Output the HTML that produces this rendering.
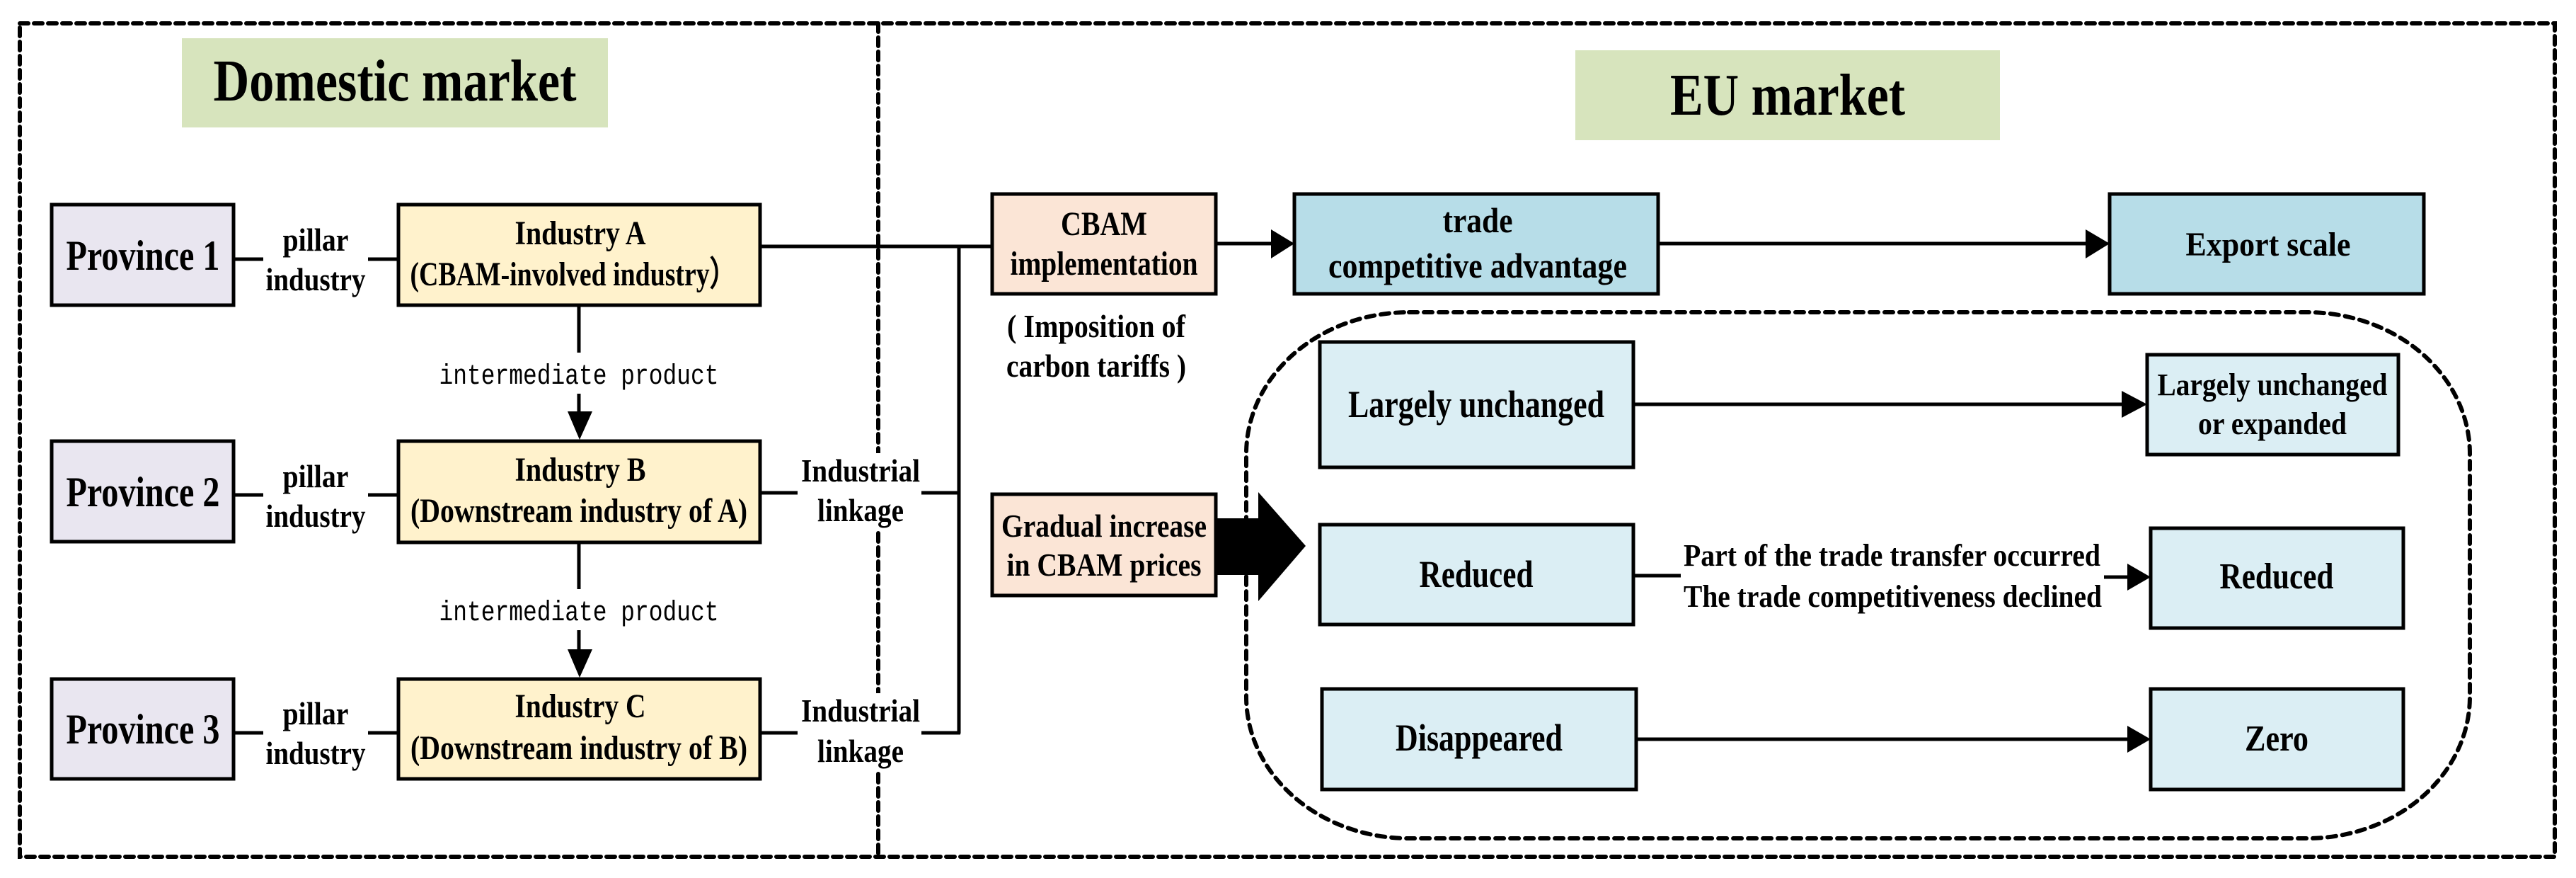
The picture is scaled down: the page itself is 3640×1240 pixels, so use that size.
<!DOCTYPE html>
<html><head><meta charset="utf-8"><style>
html,body{margin:0;padding:0;background:#fff;}
svg{display:block;}
text{font-family:"Liberation Serif","Times New Roman",serif;font-weight:bold;fill:#000;}
.m{font-family:"Liberation Mono",monospace;font-weight:normal;}
</style></head><body>
<svg width="3640" height="1240" viewBox="0 0 3640 1240" xmlns="http://www.w3.org/2000/svg">
<!-- outer dashed -->
<g fill="none" stroke="#000" stroke-width="6" stroke-dasharray="12 8" stroke-linecap="round">
<rect x="28" y="33" width="3582" height="1177"/>
<line x1="1241" y1="33" x2="1241" y2="1210"/>
</g>
<!-- inner dotted rounded -->
<rect x="1761" y="441" width="1729" height="743" rx="230" ry="200" fill="none" stroke="#000" stroke-width="6" stroke-dasharray="12 9" stroke-linecap="round"/>

<!-- white backgrounds behind linkage labels -->
<rect x="1130" y="640" width="172" height="110" fill="#fff"/>
<rect x="1130" y="979" width="172" height="110" fill="#fff"/>

<!-- titles -->
<rect x="257" y="54" width="602" height="126" fill="#d7e4bd"/>
<text x="558" y="142" font-size="84" text-anchor="middle" textLength="513" lengthAdjust="spacingAndGlyphs">Domestic market</text>
<rect x="2226" y="71" width="600" height="127" fill="#d7e4bd"/>
<text x="2526" y="162" font-size="84" text-anchor="middle" textLength="332" lengthAdjust="spacingAndGlyphs">EU market</text>

<g stroke="#000" stroke-width="5">
<rect x="73" y="289" width="257" height="142" fill="#e9e6f0"/>
<rect x="73" y="623" width="257" height="142" fill="#e9e6f0"/>
<rect x="73" y="959" width="257" height="141" fill="#e9e6f0"/>
<rect x="563" y="289" width="511" height="142" fill="#fff2cc"/>
<rect x="563" y="623" width="511" height="143" fill="#fff2cc"/>
<rect x="563" y="959" width="511" height="141" fill="#fff2cc"/>
<rect x="1402" y="274" width="316" height="141" fill="#fbe5d6"/>
<rect x="1402" y="698" width="316" height="143" fill="#fbe5d6"/>
<rect x="1829" y="274" width="514" height="141" fill="#b7dde8"/>
<rect x="2981" y="274" width="444" height="141" fill="#b7dde8"/>
<rect x="1865" y="483" width="443" height="177" fill="#dbeef4"/>
<rect x="1865" y="741" width="443" height="141" fill="#dbeef4"/>
<rect x="1868" y="973" width="444" height="142" fill="#dbeef4"/>
<rect x="3034" y="501" width="355" height="141" fill="#dbeef4"/>
<rect x="3039" y="746" width="357" height="141" fill="#dbeef4"/>
<rect x="3039" y="973" width="357" height="142" fill="#dbeef4"/>

<g fill="none">
<line x1="330" y1="366" x2="372" y2="366"/><line x1="520" y1="366" x2="563" y2="366"/>
<line x1="330" y1="699" x2="372" y2="699"/><line x1="520" y1="699" x2="563" y2="699"/>
<line x1="330" y1="1035" x2="372" y2="1035"/><line x1="520" y1="1035" x2="563" y2="1035"/>
<line x1="818" y1="431" x2="818" y2="498"/><line x1="818" y1="556" x2="818" y2="585"/>
<line x1="818" y1="766" x2="818" y2="832"/><line x1="818" y1="890" x2="818" y2="920"/>
<polyline points="1074,348 1402,348"/>
<polyline points="1355,348 1355,1036"/>
<line x1="1074" y1="696" x2="1127" y2="696"/><line x1="1302" y1="696" x2="1357" y2="696"/>
<line x1="1074" y1="1035" x2="1127" y2="1035"/><line x1="1302" y1="1035" x2="1357" y2="1035"/>
<line x1="1718" y1="344" x2="1800" y2="344"/>
<line x1="2343" y1="344" x2="2950" y2="344"/>
<line x1="2308" y1="571" x2="3000" y2="571"/>
<line x1="2308" y1="813" x2="2375" y2="813"/>
<line x1="2973" y1="815" x2="3008" y2="815"/>
<line x1="2312" y1="1044" x2="3008" y2="1044"/>
</g>
</g>
<g fill="#000">
<polygon points="802,581 837,581 819,621"/>
<polygon points="802,917 837,917 819,957"/>
<polygon points="1796,324 1829,344 1796,365"/>
<polygon points="2947,324 2981,344 2947,365"/>
<polygon points="2998,552 3034,571 2998,590"/>
<polygon points="3006,796 3039,815 3006,834"/>
<polygon points="3006,1025 3039,1044 3006,1063"/>
<polygon points="1718,732 1778,732 1778,695 1845,771 1778,849 1778,812 1718,812"/>
</g>

<g text-anchor="middle">
<text x="202" y="381" font-size="60" textLength="217" lengthAdjust="spacingAndGlyphs">Province 1</text>
<text x="202" y="715" font-size="60" textLength="217" lengthAdjust="spacingAndGlyphs">Province 2</text>
<text x="202" y="1050" font-size="60" textLength="217" lengthAdjust="spacingAndGlyphs">Province 3</text>

<text x="446" y="354" font-size="46" textLength="93" lengthAdjust="spacingAndGlyphs">pillar</text>
<text x="446" y="410" font-size="46" textLength="141" lengthAdjust="spacingAndGlyphs">industry</text>
<text x="446" y="688" font-size="46" textLength="93" lengthAdjust="spacingAndGlyphs">pillar</text>
<text x="446" y="744" font-size="46" textLength="141" lengthAdjust="spacingAndGlyphs">industry</text>
<text x="446" y="1023" font-size="46" textLength="93" lengthAdjust="spacingAndGlyphs">pillar</text>
<text x="446" y="1079" font-size="46" textLength="141" lengthAdjust="spacingAndGlyphs">industry</text>

<text x="820" y="345" font-size="48" textLength="185" lengthAdjust="spacingAndGlyphs">Industry A</text>
<text x="810" y="403" font-size="48" textLength="461" lengthAdjust="spacingAndGlyphs">(CBAM-involved industry）</text>
<text x="820" y="679" font-size="48" textLength="185" lengthAdjust="spacingAndGlyphs">Industry B</text>
<text x="818" y="737" font-size="48" textLength="476" lengthAdjust="spacingAndGlyphs">(Downstream industry of A)</text>
<text x="820" y="1013" font-size="48" textLength="185" lengthAdjust="spacingAndGlyphs">Industry C</text>
<text x="818" y="1072" font-size="48" textLength="476" lengthAdjust="spacingAndGlyphs">(Downstream industry of B)</text>

<text class="m" x="818" y="542" font-size="40" textLength="395" lengthAdjust="spacingAndGlyphs">intermediate product</text>
<text class="m" x="818" y="876" font-size="40" textLength="395" lengthAdjust="spacingAndGlyphs">intermediate product</text>

<text x="1216" y="680" font-size="46" textLength="168" lengthAdjust="spacingAndGlyphs">Industrial</text>
<text x="1216" y="736" font-size="46" textLength="122" lengthAdjust="spacingAndGlyphs">linkage</text>
<text x="1216" y="1019" font-size="46" textLength="168" lengthAdjust="spacingAndGlyphs">Industrial</text>
<text x="1216" y="1076" font-size="46" textLength="122" lengthAdjust="spacingAndGlyphs">linkage</text>

<text x="1560" y="332" font-size="48" textLength="122" lengthAdjust="spacingAndGlyphs">CBAM</text>
<text x="1560" y="388" font-size="48" textLength="265" lengthAdjust="spacingAndGlyphs">implementation</text>
<text x="1549" y="476" font-size="46" textLength="252" lengthAdjust="spacingAndGlyphs">( Imposition of</text>
<text x="1549" y="532" font-size="46" textLength="254" lengthAdjust="spacingAndGlyphs">carbon tariffs )</text>
<text x="1560" y="758" font-size="46" textLength="290" lengthAdjust="spacingAndGlyphs">Gradual increase</text>
<text x="1560" y="813" font-size="46" textLength="275" lengthAdjust="spacingAndGlyphs">in CBAM prices</text>

<text x="2088" y="328" font-size="50" textLength="99" lengthAdjust="spacingAndGlyphs">trade</text>
<text x="2088" y="392" font-size="50" textLength="422" lengthAdjust="spacingAndGlyphs">competitive advantage</text>
<text x="3205" y="361" font-size="48" textLength="233" lengthAdjust="spacingAndGlyphs">Export scale</text>

<text x="2086" y="589" font-size="54" textLength="362" lengthAdjust="spacingAndGlyphs">Largely unchanged</text>
<text x="2086" y="829" font-size="54" textLength="161" lengthAdjust="spacingAndGlyphs">Reduced</text>
<text x="2090" y="1060" font-size="54" textLength="236" lengthAdjust="spacingAndGlyphs">Disappeared</text>

<text x="3211" y="558" font-size="44" textLength="325" lengthAdjust="spacingAndGlyphs">Largely unchanged</text>
<text x="3211" y="613" font-size="44" textLength="210" lengthAdjust="spacingAndGlyphs">or expanded</text>
<text x="3217" y="831" font-size="52" textLength="161" lengthAdjust="spacingAndGlyphs">Reduced</text>
<text x="3217" y="1060" font-size="52" textLength="90" lengthAdjust="spacingAndGlyphs">Zero</text>
</g>
<text x="2379" y="799" font-size="44" textLength="589" lengthAdjust="spacingAndGlyphs">Part of the trade transfer occurred</text>
<text x="2379" y="857" font-size="44" textLength="591" lengthAdjust="spacingAndGlyphs">The trade competitiveness declined</text>
</svg>
</body></html>
